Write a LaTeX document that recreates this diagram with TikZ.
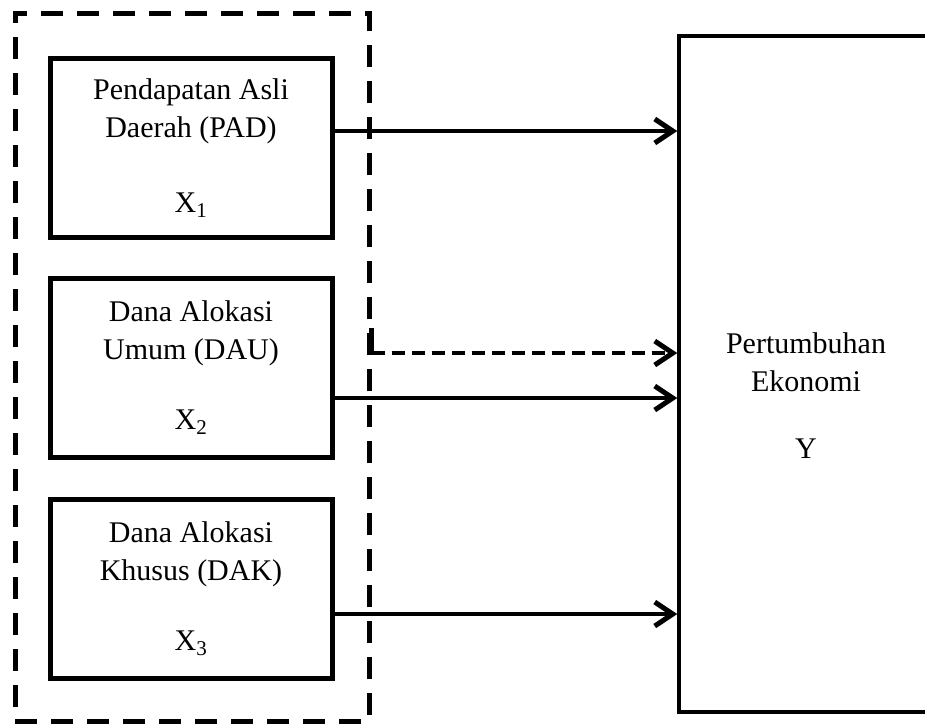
\documentclass[tikz,border=0pt]{standalone}
\usepackage{fontspec}
\setmainfont{Liberation Serif}
\usetikzlibrary{arrows.meta}
\begin{document}
\begin{tikzpicture}[x=1pt,y=-1pt,
  txt/.style={align=center, inner sep=0pt, font=\fontsize{30}{38}\selectfont},
  inbox/.style={draw, line width=5pt, minimum width=282pt, minimum height=179pt, inner sep=0pt, txt},
  grpbox/.style={draw, line width=5pt, dash pattern=on 22pt off 14pt, minimum width=354pt, minimum height=708pt, inner sep=0pt},
  rbox/.style={draw, line width=3.5pt, minimum width=254pt, minimum height=676pt, inner sep=0pt},
  arr/.style={line width=3.5pt, -{Straight Barb[length=18pt,width=24pt,line width=5pt]}},
  darr/.style={arr, dash pattern=on 13pt off 7pt}
]
\useasboundingbox (0,0) rectangle (925,726);
\fill[white] (0,0) rectangle (925,726);
\node[grpbox] (grp) at (192,367) {};
\node[inbox] (b1) at (191,148) {Pendapatan Asli\\Daerah (PAD)\\[37pt]X\textsubscript{1}};
\node[inbox] (b2) at (191,367.5) {Dana Alokasi\\Umum (DAU)\\[32pt]X\textsubscript{2}};
\node[inbox] (b3) at (191,588.5) {Dana Alokasi\\Khusus (DAK)\\[32pt]X\textsubscript{3}};
\node[rbox] (ek) at (806,374) {};
\node[txt] (ekt) at (806,396) {Pertumbuhan\\Ekonomi\\[29pt]Y};
\draw[arr] (b1.east |- 0,131) -- (ek.west |- 0,131);
\draw[line width=4.5pt] (grp.east |- 0,328) -- (grp.east |- 0,355);
\draw[darr] (grp.east |- 0,353) -- (ek.west |- 0,353);
\draw[arr] (b2.east |- 0,398) -- (ek.west |- 0,398);
\draw[arr] (b3.east |- 0,614) -- (ek.west |- 0,614);
\end{tikzpicture}
\end{document}
